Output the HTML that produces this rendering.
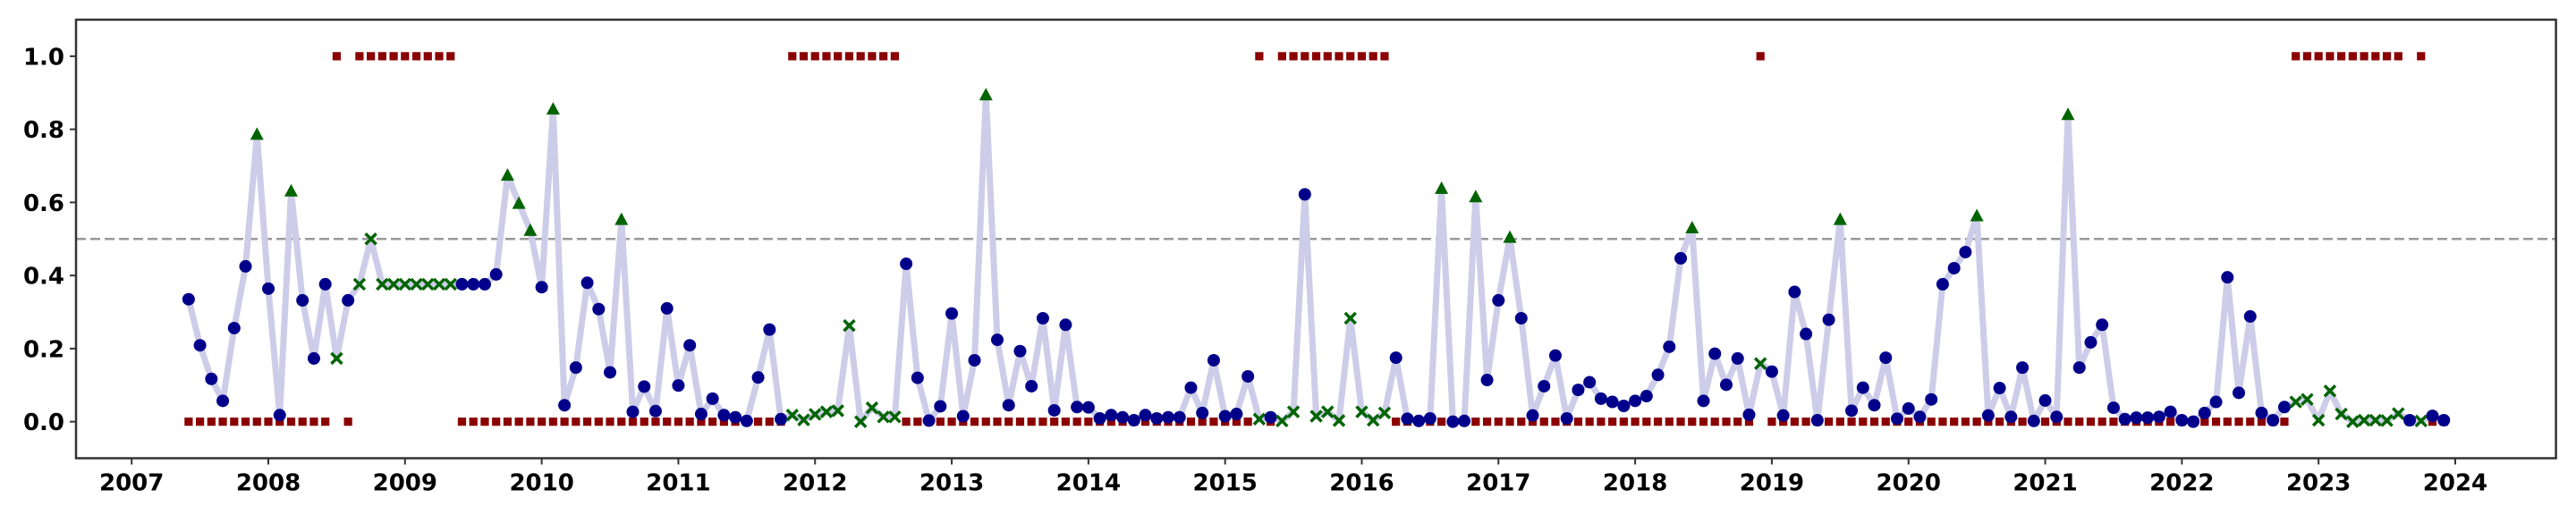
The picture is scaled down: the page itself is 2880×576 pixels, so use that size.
<!DOCTYPE html>
<html><head><meta charset="utf-8"><style>
html,body{margin:0;padding:0;background:#fff;}
svg{display:block;}
text{font-family:"DejaVu Sans","Liberation Sans",sans-serif;font-weight:bold;font-size:26px;fill:#000;}
</style></head><body>
<svg id="chart" width="2880" height="576" viewBox="0 0 2880 576" xmlns="http://www.w3.org/2000/svg">
<rect x="0" y="0" width="2880" height="576" fill="#fff"/>
<g id="grid"></g>
<g id="marks"></g>
<rect x="85" y="22" width="2772.6" height="490.5" fill="none" stroke="#333" stroke-width="2.5"/>
</svg>
<script>
const startYear = 2007, startMonth = 6;
const values = [0.335,0.209,0.117,0.057,0.256,0.425,0.786,0.364,0.018,0.631,0.332,0.173,0.376,0.173,0.332,0.376,0.5,0.376,0.376,0.376,0.376,0.376,0.376,0.376,0.376,0.376,0.376,0.403,0.674,0.597,0.523,0.368,0.855,0.045,0.148,0.38,0.308,0.135,0.553,0.027,0.096,0.029,0.31,0.099,0.209,0.021,0.063,0.018,0.012,0.002,0.121,0.252,0.007,0.018,0.005,0.02,0.027,0.03,0.263,0.0,0.038,0.013,0.013,0.432,0.12,0.003,0.042,0.296,0.015,0.168,0.894,0.224,0.045,0.193,0.097,0.283,0.031,0.265,0.04,0.039,0.009,0.018,0.012,0.004,0.018,0.009,0.012,0.012,0.093,0.024,0.168,0.015,0.021,0.124,0.007,0.012,0.002,0.027,0.622,0.015,0.027,0.003,0.283,0.027,0.004,0.024,0.175,0.008,0.002,0.009,0.638,0.0,0.002,0.615,0.114,0.332,0.504,0.283,0.017,0.097,0.181,0.009,0.087,0.108,0.063,0.054,0.043,0.057,0.07,0.128,0.205,0.447,0.53,0.057,0.186,0.101,0.173,0.019,0.159,0.137,0.017,0.355,0.24,0.004,0.279,0.553,0.03,0.093,0.045,0.175,0.008,0.036,0.013,0.061,0.376,0.42,0.464,0.563,0.017,0.092,0.013,0.148,0.002,0.058,0.013,0.84,0.148,0.217,0.265,0.038,0.007,0.011,0.011,0.013,0.027,0.004,0.0,0.024,0.054,0.395,0.079,0.288,0.024,0.004,0.04,0.054,0.061,0.004,0.084,0.021,0.0,0.004,0.004,0.003,0.022,0.004,0.002,0.016,0.004];
const markerTypes = (
  "oooooo^oo^" + "oooxoxxxxx" + "xxxxoooo^^" + "^o^ooooo^o" + "oooooooooo" +
  "oooxxxxxxx" + "xxxooooooo" + "^ooooooooo" + "oooooooooo" + "ooooxoxxox" +
  "xxxxxxoooo" + "^oo^oo^ooo" + "oooooooooo" + "oo^oooooxo" + "ooooo^oooo" +
  "ooooooo^oo" + "ooooo^oooo" + "oooooooooo" + "oooooxxxxx" + "xxxxxoxoo"
).split("");
const regime = [
  0,0,0,0,0,0,0,0,0,0, 0,0,0,1,0,1,1,1,1,1, 1,1,1,1,0,0,0,0,0,0, 0,0,0,0,0,0,0,0,0,0, 0,0,0,0,0,0,0,0,0,0,
  0,0,0,1,1,1,1,1,1,1, 1,1,1,0,0,0,0,0,0,0, 0,0,0,0,0,0,0,0,0,0, 0,0,0,0,0,0,0,0,0,0, 0,0,0,0,1,0,1,1,1,1,
  1,1,1,1,1,1,0,0,0,0, 0,0,0,0,0,0,0,0,0,0, 0,0,0,0,0,0,0,0,0,0, 0,0,0,0,0,0,0,0,1,0, 0,0,0,0,0,0,0,0,0,0,
  0,0,0,0,0,0,0,0,0,0, 0,0,0,0,0,0,0,0,0,0, 0,0,0,0,0,0,0,0,0,0, 0,0,0,0,0,1,1,1,1,1, 1,1,1,1,1,0,1,0,0
];
const yTicks = [0.0,0.2,0.4,0.6,0.8,1.0];
const yTickLabels = ["0.0","0.2","0.4","0.6","0.8","1.0"];
const xTicks = [2007,2008,2009,2010,2011,2012,2013,2014,2015,2016,2017,2018,2019,2020,2021,2022,2023,2024];
const threshold = 0.5;

const NS = "http://www.w3.org/2000/svg";
const L = 85, R = 2857.6, T = 22, B = 512.5;
const X0 = 2006.593, X1 = 2024.737, Y0 = -0.1, Y1 = 1.1;
function xs(t){ return L + (t - X0) / (X1 - X0) * (R - L); }
function ys(v){ return B - (v - Y0) / (Y1 - Y0) * (B - T); }
function tOf(i){ const m = startMonth - 1 + i; return startYear + m / 12; }
function mk(tag, attrs, parent){ const e = document.createElementNS(NS, tag); for (const k in attrs) e.setAttribute(k, attrs[k]); parent.appendChild(e); return e; }
const grid = document.getElementById('grid'), marks = document.getElementById('marks');

yTicks.forEach((v, k) => {
  const y = ys(v);
  const tk = mk('line', {x1: L - 7, x2: L, y1: y, y2: y, stroke: '#333', 'stroke-width': 2}, grid);
  
  
  const tx = mk('text', {x: L - 13, y: y + 9.5, 'text-anchor': 'end'}, grid);
  tx.textContent = yTickLabels[k];
  
  
});
xTicks.forEach(yr => {
  const x = xs(yr);
  const tk = mk('line', {x1: x, x2: x, y1: B, y2: B + 7, stroke: '#333', 'stroke-width': 2}, grid);
  
  
  const tx = mk('text', {x: x, y: B + 36, 'text-anchor': 'middle'}, grid);
  tx.textContent = String(yr);
  
  
});

const th = mk('line', {x1: L, x2: R, y1: ys(threshold), y2: ys(threshold), stroke: '#999', 'stroke-width': 2.5, 'stroke-dasharray': '11,5'}, marks);



const pts = values.map((v, i) => xs(tOf(i)).toFixed(1) + ',' + ys(v).toFixed(1)).join(' ');
const line = mk('polyline', {points: pts, fill: 'none', stroke: '#cdcde9', 'stroke-width': 7, 'stroke-linejoin': 'round'}, marks);



regime.forEach((r, i) => {
  if (r === null || i >= values.length) return;
  const x = xs(tOf(i)), y = ys(r);
  const sq = mk('rect', {x: x - 4.6, y: y - 4.6, width: 9.2, height: 9.2, fill: '#8b0000'}, marks);
  
  
});

values.forEach((v, i) => {
  const x = xs(tOf(i)), y = ys(v), t = markerTypes[i] || 'o';
  let e;
  if (t === '^') {
    e = mk('polygon', {points: `${x},${y-8} ${x-7.5},${y+6} ${x+7.5},${y+6}`, fill: '#006400'}, marks);
    
  } else if (t === 'x') {
    e = mk('path', {d: `M${x-6},${y-6}L${x+6},${y+6}M${x-6},${y+6}L${x+6},${y-6}`, stroke: '#006400', 'stroke-width': 3.5, fill: 'none'}, marks);
    
  } else {
    e = mk('ellipse', {cx: x, cy: y, rx: 7, ry: 7, fill: '#00008b'}, marks);
    
  }
  
});
</script>
</body></html>
